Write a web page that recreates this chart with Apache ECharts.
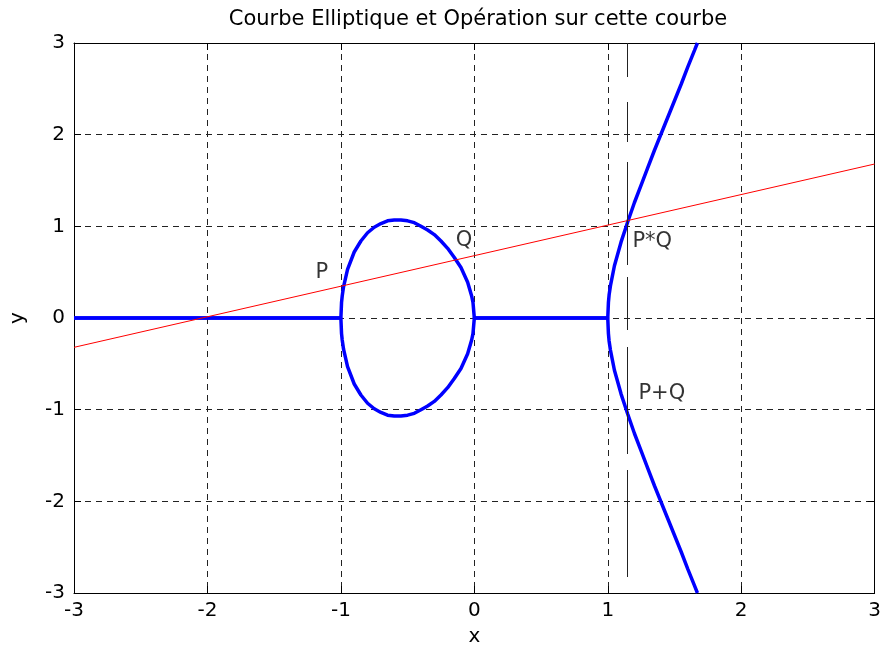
<!DOCTYPE html>
<html><head><meta charset="utf-8">
<script src="https://cdn.jsdelivr.net/npm/echarts@6/dist/echarts.min.js"></script>
<style>html,body{margin:0;padding:0;background:#fff}#c{width:884px;height:652px}</style>
</head><body><div id="c"></div>
<script>
// ---- data ----
const titleText = 'Courbe Elliptique et Opération sur cette courbe';
const xName = 'x';
const yName = 'y';
const xTicks = [-3, -2, -1, 0, 1, 2, 3];
const yTicks = [-3, -2, -1, 0, 1, 2, 3];

// elliptic curve, upper branch (x, y)
const curveX = [-3, -1, -0.995, -0.99, -0.98, -0.95, -0.9, -0.85, -0.8, -0.75, -0.7, -0.65, -0.6, -0.55, -0.5, -0.45, -0.4, -0.35, -0.3, -0.25, -0.2, -0.15, -0.1, -0.05, -0.02, -0.01, 0, 1, 1.005, 1.01, 1.02, 1.05, 1.1, 1.15, 1.2, 1.25, 1.3, 1.35, 1.4, 1.45, 1.5, 1.55, 1.6, 1.65, 1.672];
const curveYUpper = [0, 0, 0.17, 0.24, 0.34, 0.53, 0.72, 0.84, 0.93, 0.99, 1.03, 1.06, 1.07, 1.07, 1.06, 1.04, 1.00, 0.96, 0.91, 0.84, 0.76, 0.66, 0.55, 0.39, 0.24, 0.17, 0, 0, 0.17, 0.25, 0.35, 0.57, 0.83, 1.05, 1.26, 1.45, 1.64, 1.83, 2.01, 2.19, 2.37, 2.55, 2.74, 2.92, 3.0];
const curveYLower = [0, 0, -0.17, -0.24, -0.34, -0.53, -0.72, -0.84, -0.93, -0.99, -1.03, -1.06, -1.07, -1.07, -1.06, -1.04, -1.00, -0.96, -0.91, -0.84, -0.76, -0.66, -0.55, -0.39, -0.24, -0.17, 0, 0, -0.17, -0.25, -0.35, -0.57, -0.83, -1.05, -1.26, -1.45, -1.64, -1.83, -2.01, -2.19, -2.37, -2.55, -2.74, -2.92, -3.0];

// secant line through P and Q
const secantX = [-3, 3];
const secantY = [-0.32, 1.68];

// vertical line through P*Q and P+Q
const vertX = [1.148, 1.148];
const vertY = [-3, 3];

// point labels
const labelNames = ['P', 'Q', 'P*Q', 'P+Q'];
const labelX = [-1.19, -0.14, 1.185, 1.23];
const labelY = [0.50, 0.84, 0.83, -0.82];

// ---- chart ----
const FONT = 'DejaVu Sans';
const zip = (a, b) => a.map((v, i) => [v, b[i]]);
const chart = echarts.init(document.getElementById('c'), null, {renderer: 'canvas'});

const xMin = xTicks[0], xMax = xTicks[xTicks.length - 1], xInt = xTicks[1] - xTicks[0];
const yMin = yTicks[0], yMax = yTicks[yTicks.length - 1], yInt = yTicks[1] - yTicks[0];

const axisBase = {
  type: 'value',
  axisLine: {show: true, onZero: false, lineStyle: {color: '#000', width: 1}},
  axisTick: {show: true, inside: true, length: 7, lineStyle: {color: '#000', width: 1}},
};

chart.setOption({
  animation: false,
  backgroundColor: '#fff',
  title: {
    text: titleText, left: 473, top: 4, textAlign: 'center',
    textStyle: {fontFamily: FONT, fontSize: 21, fontWeight: 'normal', color: '#000'}
  },
  grid: {left: 74, right: 8, top: 43, bottom: 56, containLabel: false},
  xAxis: [
    Object.assign({}, axisBase, {
      min: xMin, max: xMax, interval: xInt, position: 'bottom',
      name: xName, nameLocation: 'middle', nameGap: 34,
      nameTextStyle: {fontFamily: FONT, fontSize: 20, color: '#000'},
      axisLabel: {fontFamily: FONT, fontSize: 20, color: '#000', margin: 8},
      splitLine: {show: true, lineStyle: {color: '#222', width: 1, type: [6, 5]}}
    }),
    Object.assign({}, axisBase, {
      min: xMin, max: xMax, interval: xInt, position: 'top',
      axisLabel: {show: false}, splitLine: {show: false}
    })
  ],
  yAxis: [
    Object.assign({}, axisBase, {
      min: yMin, max: yMax, interval: yInt, position: 'left',
      name: yName, nameLocation: 'middle', nameGap: 46,
      nameTextStyle: {fontFamily: FONT, fontSize: 20, color: '#000'},
      axisLabel: {fontFamily: FONT, fontSize: 20, color: '#000', margin: 9},
      splitLine: {show: true, lineStyle: {color: '#222', width: 1, type: [6, 5]}}
    }),
    Object.assign({}, axisBase, {
      min: yMin, max: yMax, interval: yInt, position: 'right',
      axisLabel: {show: false}, splitLine: {show: false}
    })
  ],
  series: [
    {type: 'line', data: zip(curveX, curveYUpper), showSymbol: false, symbol: 'none',
     lineStyle: {color: '#0000ff', width: 3.5}, z: 2},
    {type: 'line', data: zip(curveX, curveYLower), showSymbol: false, symbol: 'none',
     lineStyle: {color: '#0000ff', width: 3.5}, z: 2},
    {type: 'line', data: zip(secantX, secantY), showSymbol: false, symbol: 'none',
     lineStyle: {color: '#ff0000', width: 1}, z: 3},
    {type: 'line', data: zip(vertX, vertY), showSymbol: false, symbol: 'none',
     lineStyle: {color: '#222', width: 1,
                 type: [0, 16, 107, 16, 107, 17, 53, 12, 103, 20, 40, 25, 37, 10]}, z: 4},
    {type: 'scatter', data: labelNames.map((n, i) => ({name: n, value: [labelX[i], labelY[i]]})),
     symbolSize: 0, z: 5,
     label: {show: true, position: 'right', distance: 0, formatter: p => p.name,
             fontFamily: FONT, fontSize: 21, color: '#000'}}
  ]
});
</script>
</body></html>
